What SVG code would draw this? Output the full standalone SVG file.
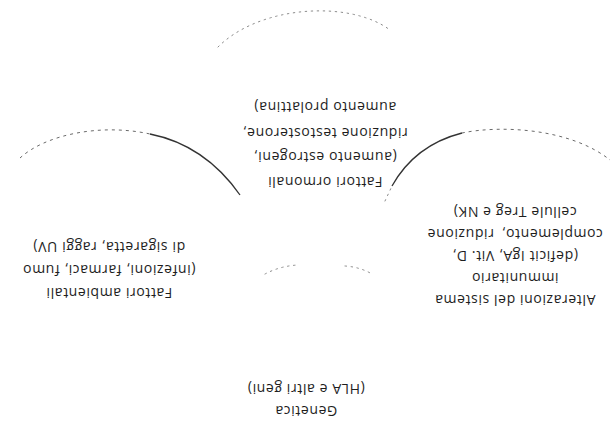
<svg xmlns="http://www.w3.org/2000/svg" width="613" height="421" viewBox="0 0 613 421">
  <style>
    .lbl { font-family: "Open Sans", "Liberation Sans", sans-serif; font-size: 14px; letter-spacing: 0.6px; fill: #1e1e1e; text-anchor: middle; }
    .faint { fill: none; stroke: #8a8a8a; stroke-width: 1; stroke-dasharray: 1.5 4.5; stroke-linecap: round; }
    .dash { fill: none; stroke: #6a6a6a; stroke-width: 1; stroke-dasharray: 3 4; }
    .solid { fill: none; stroke: #333; stroke-width: 1.3; }
  </style>
  <rect width="613" height="421" fill="#fff"/>

  <!-- circle outlines (partial) -->
  <g id="connectors">
    <path class="faint" d="M 218 47 C 260 5, 350 0, 390 30"/>
    <path class="dash" d="M 20 158 C 45 135, 100 123, 150 134"/>
    <path class="solid" d="M 150 134 Q 205 145 240 195"/>
    <path class="faint" d="M 385 201 L 392 186"/>
    <path class="solid" d="M 392 186 Q 415 145 462 133"/>
    <path class="dash" d="M 462 133 C 500 125, 570 128, 610 160"/>
    <path class="faint" d="M 265 274 Q 280 266 298 265"/>
    <path class="faint" d="M 345 266 Q 360 267 372 274"/>
  </g>

  <!-- labels, whole sheet turned upside down -->
  <g transform="translate(613 421) rotate(180)">
    <g id="genetica">
      <text class="lbl" x="307" y="15">Genetica</text>
      <text class="lbl" x="307" y="37">(HLA e altri geni)</text>
    </g>
    <g id="immunitario">
      <text class="lbl" x="98" y="126">Alterazioni del sistema</text>
      <text class="lbl" x="98" y="148.5">immunitario</text>
      <text class="lbl" x="98" y="170.5">(deficit IgA, Vit. D,</text>
      <text class="lbl" x="98" y="192.5" word-spacing="3">complemento, riduzione</text>
      <text class="lbl" x="98" y="214.5">cellule Treg e NK)</text>
    </g>
    <g id="ambientali">
      <text class="lbl" x="504" y="133">Fattori ambientali</text>
      <text class="lbl" x="504" y="156">(infezioni, farmaci, fumo</text>
      <text class="lbl" x="504" y="179">di sigaretta, raggi UV)</text>
    </g>
    <g id="ormonali">
      <text class="lbl" x="288" y="244.5">Fattori ormonali</text>
      <text class="lbl" x="288" y="269">(aumento estrogeni,</text>
      <text class="lbl" x="288" y="293.5">riduzione testosterone,</text>
      <text class="lbl" x="288" y="319">aumento prolattina)</text>
    </g>
  </g>
</svg>
